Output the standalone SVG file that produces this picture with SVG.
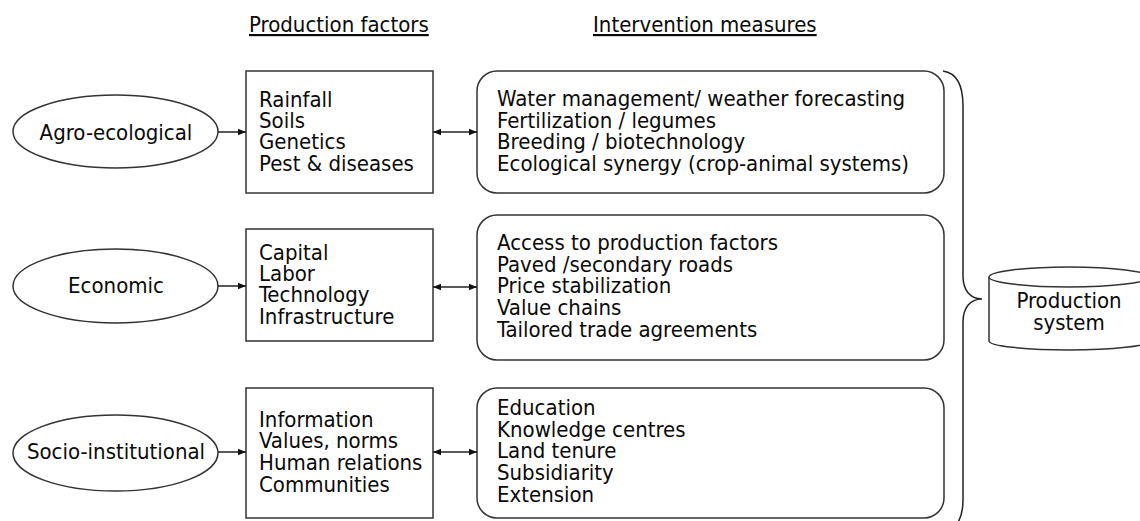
<svg xmlns="http://www.w3.org/2000/svg" width="1140" height="521" viewBox="0 0 1140 521">
  <style>
    text { font-family: "DejaVu Sans Condensed", "DejaVu Sans", sans-serif; font-size: 22px; fill: #0a0a0a; }
    .hdr { font-size: 22px; text-decoration: underline; }
    .mid { text-anchor: middle; }
    .shape { fill: #fff; stroke: #333; stroke-width: 1.5; }
    .conn { fill: none; stroke: #222; stroke-width: 1.5; }
  </style>
  <defs>
    <marker id="ah" viewBox="0 0 10 10" refX="10" refY="5" markerWidth="8" markerHeight="8" markerUnits="userSpaceOnUse" orient="auto-start-reverse">
      <path d="M0,1 L10,5 L0,9 Z" fill="#111"/>
    </marker>
  </defs>
  <rect width="1140" height="521" fill="#fff"/>

  <g id="headers">
    <text class="hdr" x="249" y="32">Production factors</text>
    <text class="hdr" x="593" y="32">Intervention measures</text>
  </g>

  <g id="agro">
    <ellipse class="shape" cx="115.5" cy="131.5" rx="102.5" ry="36.5"/>
    <text class="mid" x="116" y="140">Agro-ecological</text>
  </g>
  <g id="economic">
    <ellipse class="shape" cx="115.5" cy="286" rx="102.5" ry="37"/>
    <text class="mid" x="116" y="293">Economic</text>
  </g>
  <g id="socio">
    <ellipse class="shape" cx="115.5" cy="453" rx="102.5" ry="38"/>
    <text class="mid" x="116" y="459">Socio-institutional</text>
  </g>

  <g id="factors-agro">
    <rect class="shape" x="246" y="71" width="187" height="122"/>
    <text x="259" y="107">Rainfall</text>
    <text x="259" y="128">Soils</text>
    <text x="259" y="149">Genetics</text>
    <text x="259" y="171">Pest &amp; diseases</text>
  </g>
  <g id="factors-economic">
    <rect class="shape" x="246" y="229" width="187" height="112"/>
    <text x="259" y="260">Capital</text>
    <text x="259" y="281">Labor</text>
    <text x="259" y="302">Technology</text>
    <text x="259" y="324">Infrastructure</text>
  </g>
  <g id="factors-socio">
    <rect class="shape" x="246" y="388" width="187" height="130"/>
    <text x="259" y="427">Information</text>
    <text x="259" y="448">Values, norms</text>
    <text x="259" y="470">Human relations</text>
    <text x="259" y="492">Communities</text>
  </g>

  <g id="measures-agro">
    <rect class="shape" x="477" y="71" width="467" height="122" rx="20" ry="20"/>
    <text x="497" y="106">Water management/ weather forecasting</text>
    <text x="497" y="128">Fertilization / legumes</text>
    <text x="497" y="149">Breeding / biotechnology</text>
    <text x="497" y="171">Ecological synergy (crop-animal systems)</text>
  </g>
  <g id="measures-economic">
    <rect class="shape" x="477" y="215" width="467" height="145" rx="20" ry="20"/>
    <text x="497" y="250">Access to production factors</text>
    <text x="497" y="272">Paved /secondary roads</text>
    <text x="497" y="293">Price stabilization</text>
    <text x="497" y="315">Value chains</text>
    <text x="497" y="337">Tailored trade agreements</text>
  </g>
  <g id="measures-socio">
    <rect class="shape" x="477" y="388" width="467" height="130" rx="20" ry="20"/>
    <text x="497" y="415">Education</text>
    <text x="497" y="437">Knowledge centres</text>
    <text x="497" y="458">Land tenure</text>
    <text x="497" y="480">Subsidiarity</text>
    <text x="497" y="502">Extension</text>
  </g>

  <g id="production-system">
    <path class="shape" d="M989,277 L989,341 A80,9 0 0 0 1149,341 L1149,277"/>
    <ellipse class="shape" cx="1069" cy="277" rx="80" ry="10"/>
    <text class="mid" x="1069" y="308">Production</text>
    <text class="mid" x="1069" y="330">system</text>
  </g>

  <g id="connectors">
    <line class="conn" x1="218" y1="132" x2="246" y2="132" marker-end="url(#ah)"/>
    <line class="conn" x1="218" y1="286" x2="246" y2="286" marker-end="url(#ah)"/>
    <line class="conn" x1="218" y1="452" x2="246" y2="452" marker-end="url(#ah)"/>
    <line class="conn" x1="433" y1="132" x2="477" y2="132" marker-start="url(#ah)" marker-end="url(#ah)"/>
    <line class="conn" x1="433" y1="287" x2="477" y2="287" marker-start="url(#ah)" marker-end="url(#ah)"/>
    <line class="conn" x1="433" y1="452" x2="477" y2="452" marker-start="url(#ah)" marker-end="url(#ah)"/>
    <path class="conn" d="M943,71 C957,73 963,86 963,106 L963,276 C963,290 970,299 982,299 C970,299 963,308 963,322 L963,500 C963,511 961,518 957,524"/>
  </g>
</svg>
